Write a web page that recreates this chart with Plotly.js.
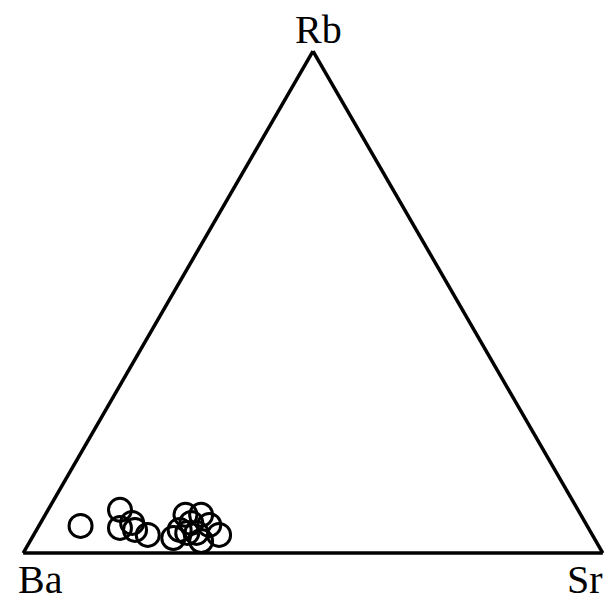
<!DOCTYPE html>
<html>
<head>
<meta charset="utf-8">
<script src="https://cdn.plot.ly/plotly-3.0.1.min.js"></script>
<style>html,body{margin:0;padding:0;background:#fff;}#chart{width:608px;height:603px;}</style>
</head>
<body>
<div id="chart"></div>
<script>
// Ternary fractions (Rb = top, Ba = left, Sr = right)
const rb = [0.054, 0.086, 0.050, 0.060, 0.046, 0.036, 0.030, 0.046, 0.076, 0.060, 0.040, 0.076, 0.024, 0.056, 0.036, 0.040];
const sr = [0.072, 0.124, 0.142, 0.158, 0.170, 0.197, 0.244, 0.247, 0.242, 0.260, 0.279, 0.269, 0.295, 0.293, 0.320, 0.263];
const ba = rb.map((v, i) => +(1 - v - sr[i]).toFixed(3));
const cornerLabels = ["Rb", "Ba", "Sr"];

const trace = {
  type: 'scatterternary',
  mode: 'markers',
  a: rb, b: ba, c: sr,
  marker: {symbol: 'circle-open', size: 23, color: '#000', line: {width: 3, color: '#000'}},
  hoverinfo: 'skip'
};

const axisStyle = {
  showticklabels: false, ticks: '', showgrid: false,
  linecolor: '#000', linewidth: 3.5, title: {text: ''}
};

const W = 608, H = 603;
const fx = px => px / W;
const fy = py => 1 - py / H;
const font = {family: 'Liberation Serif, Times New Roman, serif', size: 40, color: '#000'};

const layout = {
  width: W, height: H,
  margin: {l: 0, r: 0, t: 0, b: 0},
  paper_bgcolor: '#fff',
  showlegend: false,
  ternary: {
    sum: 1,
    domain: {x: [fx(20), fx(606)], y: [fy(553), fy(51)]},
    bgcolor: '#fff',
    aaxis: axisStyle, baxis: axisStyle, caxis: axisStyle
  },
  annotations: [
    {text: cornerLabels[0], x: fx(318), y: fy(29), xref: 'paper', yref: 'paper', xanchor: 'center', yanchor: 'middle', showarrow: false, font: font},
    {text: cornerLabels[1], x: fx(16), y: fy(579), xref: 'paper', yref: 'paper', xanchor: 'left', yanchor: 'middle', showarrow: false, font: font},
    {text: cornerLabels[2], x: fx(604), y: fy(579), xref: 'paper', yref: 'paper', xanchor: 'right', yanchor: 'middle', borderpad: 0, showarrow: false, font: font}
  ]
};

Plotly.newPlot('chart', [trace], layout, {displayModeBar: false, staticPlot: true});
</script>
</body>
</html>
